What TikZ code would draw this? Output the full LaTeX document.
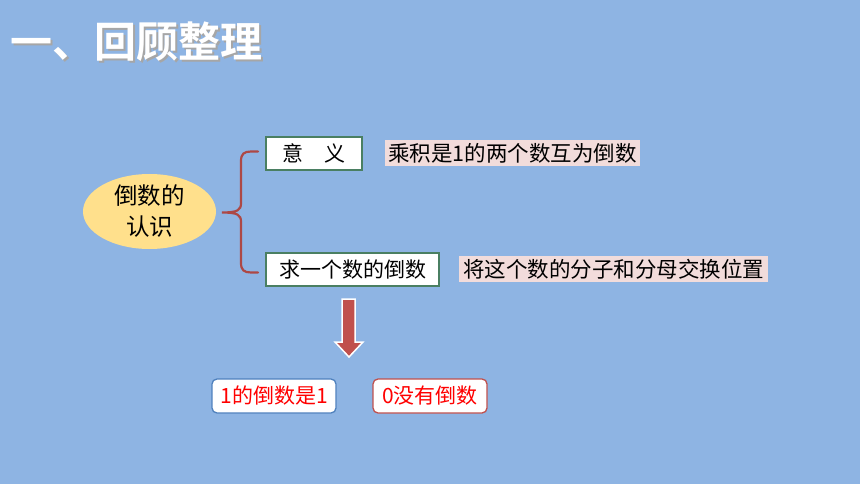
\documentclass[tikz,border=0pt]{standalone}
\usepackage{fontspec}
\setmainfont{Liberation Serif}
\newfontfamily\cjk{Noto Sans CJK SC}
\newfontfamily\cjkb{Noto Sans CJK SC}[BoldFont={* Bold}]
\usetikzlibrary{shapes.geometric}
\definecolor{bg}{HTML}{8EB4E3}
\definecolor{ell}{HTML}{FFE08C}
\definecolor{grn}{HTML}{4A7F62}
\definecolor{pnk}{HTML}{F2DCDB}
\definecolor{rd}{HTML}{C0504D}
\definecolor{bl}{HTML}{4F81BD}
\tikzset{
  whitebox/.style={draw=grn, line width=1.5pt, fill=white, inner sep=0pt, minimum height=33pt, font=\fontsize{21}{23}\selectfont\cjk},
  pinklabel/.style={fill=pnk, inner sep=0pt, minimum height=26pt, font=\fontsize{21.5}{23}\selectfont\cjk},
  roundbox/.style={line width=1.3pt, fill=white, rounded corners=5pt, inner sep=0pt, minimum height=34pt, text=red, font=\fontsize{21}{23}\selectfont\cjk},
}
\begin{document}
\begin{tikzpicture}[x=1pt,y=-1pt]
\fill[bg] (0,0) rectangle (860,484);
\useasboundingbox (0,0) rectangle (860,484);
% title
\node[text=black!35, anchor=west, font=\fontsize{42}{44}\selectfont\cjkb\bfseries] at (8.5,43.5) {一、回顾整理};
\node[text=white, anchor=west, font=\fontsize{42}{44}\selectfont\cjkb\bfseries] (title) at (7,42) {一、回顾整理};
% ellipse
\node[ellipse, fill=ell, minimum width=133pt, minimum height=75pt, inner sep=0pt, align=center, font=\fontsize{23.5}{31}\selectfont\cjk] (ell) at (149.5,211.5) {倒数的\\认识};
% boxes
\node[whitebox, minimum width=96pt] (yi) at (314,153.5) {意\hspace{1em}义};
\node[whitebox, minimum width=173pt] (qiu) at (352.5,269.5) {求一个数的倒数};
\node[pinklabel, minimum width=255pt] (p1) at (512.5,153) {乘积是1的两个数互为倒数};
\node[pinklabel, minimum width=309pt] (p2) at (613.5,269) {将这个数的分子和分母交换位置};
% brace
\coordinate (tip) at (222,212.5);
\draw[rd!90!black, line width=2.2pt, line cap=round]
  (258,151.5) -- (251,151.5) .. controls (244,151.5) and (241,154) .. (241,161)
  -- (241,203) .. controls (241,210) and (238,212.5) .. (tip)
  .. controls (238,212.5) and (241,215) .. (241,222)
  -- (241,263) .. controls (241,270) and (244,272.5) .. (251,272.5) -- (258,272.5);
% arrow
\draw[white, line width=1.5pt, fill=rd, line join=miter]
  (342,299) -- (355,299) -- (355,342) -- (363,342) -- (349,357) -- (335,342) -- (342,342) -- cycle;
\coordinate (arrtop) at (349,299);
% bottom boxes
\node[roundbox, draw=bl, minimum width=124pt] (one) at (274,396) {1的倒数是1};
\node[roundbox, draw=rd, minimum width=114pt] (zero) at (430,396) {0没有倒数};
\end{tikzpicture}
\end{document}
